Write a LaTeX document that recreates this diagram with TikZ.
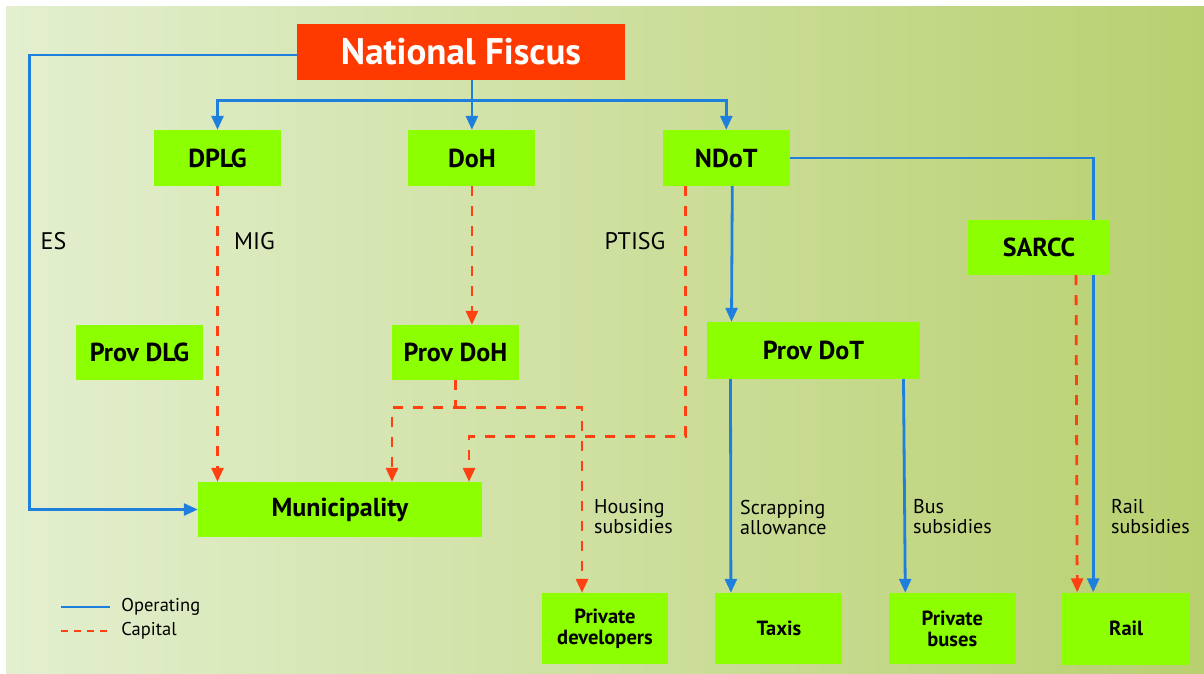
\documentclass[tikz,border=0pt]{standalone}
\usepackage{fontspec}
\setmainfont{PT Sans}
\usepackage{tikz}
\usetikzlibrary{arrows.meta, positioning, calc}
\definecolor{fiscred}{RGB}{255, 58, 0}
\definecolor{boxgreen}{RGB}{140, 255, 0}
\definecolor{opblue}{RGB}{30, 128, 220}
\definecolor{capred}{RGB}{255, 64, 16}
\definecolor{bgleft}{RGB}{227, 239, 207}
\definecolor{bgright}{RGB}{185, 208, 112}

\begin{document}
\begin{tikzpicture}[x=1pt, y=-1pt,
  box/.style={fill=boxgreen, inner sep=0pt, text centered,
        minimum width=127pt, minimum height=56pt,
        font=\fontsize{26}{30}\selectfont\bfseries},
  smallbox/.style={box, align=center, minimum height=71pt,
        font=\fontsize{20.5}{21}\selectfont\bfseries},
  opline/.style={draw=opblue, line width=2.8pt,
        -{Triangle[length=14pt, width=12pt]}},
  capline/.style={draw=capred, line width=2.8pt,
        dash pattern=on 10pt off 10pt,
        -{Triangle[length=14pt, width=12pt]}},
  lbl/.style={font=\fontsize{24}{28}\selectfont},
  sublbl/.style={align=left, anchor=west, inner sep=0pt,
        font=\fontsize{20}{20}\selectfont}]
  \useasboundingbox (0,0) rectangle (1204,674);
  \shade[left color=bgleft, right color=bgright] (6,7) rectangle (1204,674);

  \node[fill=fiscred, text=white, inner sep=0pt,
        minimum width=328pt, minimum height=56pt,
        font=\fontsize{37}{42}\selectfont\bfseries] (fiscus) at (461,52) {National Fiscus};
  \node[box] (dplg) at (217.5,158) {DPLG};
  \node[box, right=127pt of dplg] (doh) {DoH};
  \node[box, right=127pt of doh] (ndot) {NDoT};
  \node[box, minimum height=55pt] (provdlg) at (139.5,352.5) {Prov DLG};
  \node[box, minimum height=55pt] (provdoh) at (455.5,352.5) {Prov DoH};
  \node[box, minimum width=213pt, minimum height=57pt] (provdot) at (813.5,350.5) {Prov DoT};
  \node[box, minimum width=284pt, minimum height=55pt] (muni) at (340,509.5) {Municipality};
  \node[smallbox, minimum width=126pt] (privdev) at (605,628.5) {Private\\developers};
  \node[smallbox, right=47pt of privdev] (taxis) {Taxis};
  \node[smallbox, right=46pt of taxis] (privbus) {Private\\buses};
  \node[smallbox, minimum width=128pt, minimum height=72pt, right=46pt of privbus] (rail) {Rail};

  \node[lbl] (es) at (53.5,241) {ES};
  \node[lbl] (mig) at (254.5,241) {MIG};
  \node[lbl] (ptisg) at (635,241) {PTISG};
  \node[sublbl] (houslbl) at (594,517) {Housing\\subsidies};
  \node[sublbl] (scraplbl) at (740,517) {Scrapping\\allowance};
  \node[sublbl] (buslbl) at (913,517) {Bus\\subsidies};
  \node[sublbl] (raillbl) at (1111,517) {Rail\\subsidies};

  \coordinate (bus) at ($(fiscus.south -| doh.north)+(0,20)$);
  \draw[opline] (fiscus.south -| doh.north) -- (doh.north);
  \draw[opline] (bus) -| (dplg.north);
  \draw[opline] (bus) -| (ndot.north);
  \draw[opline] ([yshift=-3pt]fiscus.west) -- ++(-267,0) |- (muni.west);
  \draw[opline] ([xshift=6pt]ndot.south) -- ([xshift=-82pt]provdot.north);
  \draw[opline] ([xshift=-83pt]provdot.south) -- ([xshift=-48pt]taxis.north);
  \draw[opline] ([xshift=90pt]provdot.south) -- ([xshift=-47pt]privbus.north);
  \draw[opline] (ndot.east) -| ([xshift=-33pt]rail.north);

  \draw[capline] (dplg.south) -- (dplg.south |- muni.north);
  \draw[capline] (doh.south) -- (doh.south |- provdoh.north);
  \draw[capline] (provdoh.south) -- ++(0,27) coordinate (housesplit)
    -| ([xshift=52pt]muni.north);
  \draw[capline] (housesplit) -| ([xshift=-23pt]privdev.north);
  \draw[capline] ([xshift=-41pt]ndot.south) -- ++(0,250)
    -| ([xshift=129pt]muni.north);

  \node[box, minimum width=142pt, minimum height=55pt] (sarcc) at (1039,247.5) {SARCC};
  \draw[capline] ([xshift=37pt]sarcc.south) -- ([xshift=-49pt]rail.north);

  \draw[draw=opblue, line width=2.8pt] (61,607) -- ++(49,0)
    node[anchor=west, inner sep=0pt, xshift=10pt, font=\fontsize{18.5}{20}\selectfont] (oplegend) {Operating};
  \draw[draw=capred, line width=2.8pt, dash pattern=on 7pt off 6pt] (61,631) -- ++(49,0)
    node[anchor=west, inner sep=0pt, xshift=10pt, font=\fontsize{18.5}{20}\selectfont] (caplegend) {Capital};
\end{tikzpicture}
\end{document}
